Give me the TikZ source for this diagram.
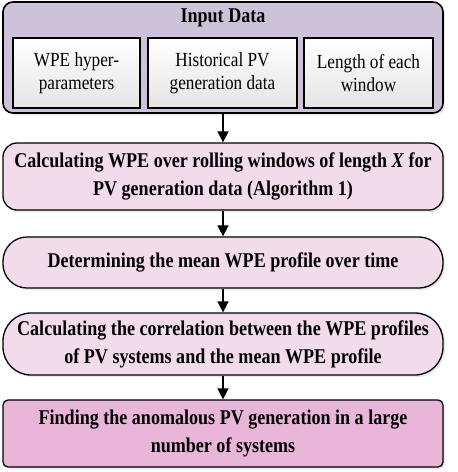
\documentclass[tikz,border=0pt]{standalone}
\usepackage{fontspec}
\setmainfont{Liberation Serif}[FakeStretch=0.86]
\usepackage{tikz}
\usetikzlibrary{arrows.meta,shadows}

\definecolor{inputlilac}{HTML}{CCC2DA}
\definecolor{steppink}{HTML}{F2DCEB}
\definecolor{finalpink}{HTML}{E8B6D8}
\definecolor{paramgrey}{HTML}{E4E4E4}

\tikzset{
  softshadow/.style={drop shadow={opacity=0.18,shadow xshift=2pt,shadow yshift=-2pt}},
  stepbox/.style={draw=black,line width=1.3pt,fill=steppink,softshadow,
    minimum width=440pt,align=center,font=\bfseries\fontsize{21}{28}\selectfont},
  parambox/.style={draw=black,line width=1.3pt,top color=white,bottom color=paramgrey,
    minimum height=70pt,align=center,font=\fontsize{20}{23}\selectfont},
  flow/.style={line width=1.6pt,-{Triangle[width=11pt,length=11pt]}}
}

\begin{document}
\begin{tikzpicture}[x=1pt,y=-1pt]
        \useasboundingbox (0,0) rectangle (458,472);
        % Input data panel
        \node[draw=black,line width=1.6pt,rounded corners=10pt,fill=inputlilac,softshadow,
          minimum width=440pt,minimum height=111pt] (input) at (223,57.5) {};
        \node[font=\bfseries\fontsize{21}{24}\selectfont] (inputtitle) at (223,18) {Input Data};
        \node[parambox,minimum width=127pt] (hyper) at (76.5,73) {WPE hyper-\\parameters};
        \node[parambox,minimum width=149pt] (history) at (222.5,73) {Historical PV\\generation data};
        \node[parambox,minimum width=129pt] (winlen) at (368.5,73) {Length of each\\window};
        % Processing steps
        \node[stepbox,rounded corners=14pt,minimum height=67pt] (wpecalc) at (223,176.5)
          {Calculating WPE over rolling windows of length \textit{X} for\\PV generation data (Algorithm 1)};
        \node[stepbox,rounded corners=24pt,minimum height=51pt] (meanwpe) at (223,262.5)
          {Determining the mean WPE profile over time};
        \node[stepbox,rounded corners=28pt,minimum height=62pt] (correl) at (223,344)
          {Calculating the correlation between the WPE profiles\\of PV systems and the mean WPE profile};
        \node[stepbox,rounded corners=5pt,fill=finalpink,minimum height=67pt] (anomaly) at (223,433.5)
          {Finding the anomalous PV generation in a large\\number of systems};
        % Arrows
        \draw[flow] (input) -- (wpecalc);
        \draw[flow] (wpecalc) -- (meanwpe);
        \draw[flow] (meanwpe) -- (correl);
        \draw[flow] (correl) -- (anomaly);
      \end{tikzpicture}
\end{document}
